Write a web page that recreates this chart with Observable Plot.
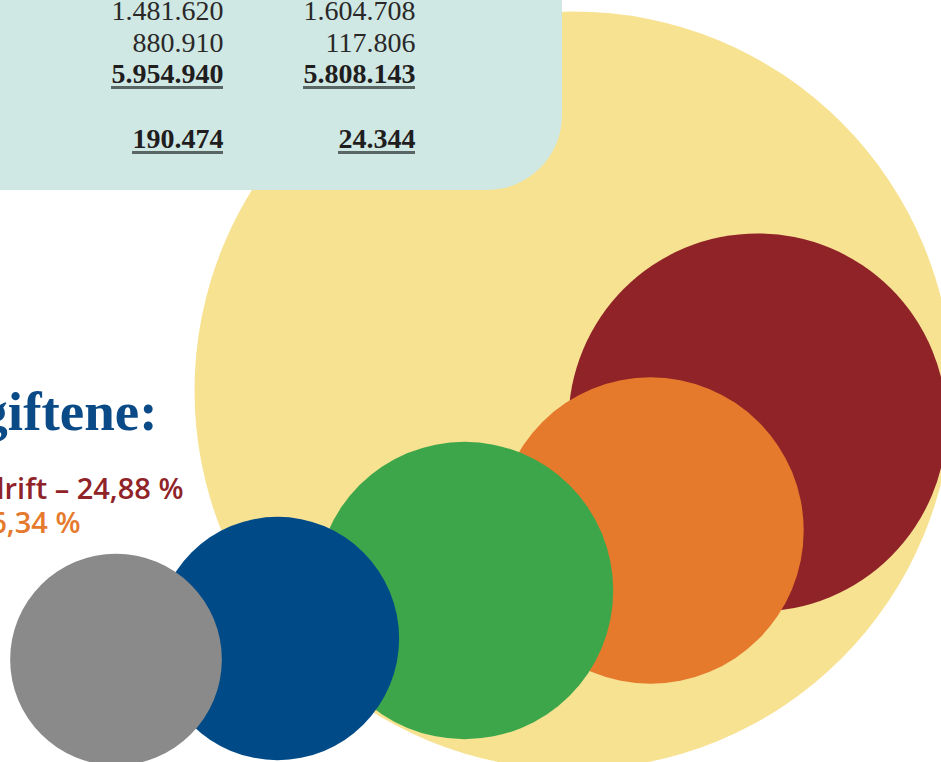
<!DOCTYPE html>
<html><head><meta charset="utf-8">
<script src="https://cdn.jsdelivr.net/npm/d3@7"></script>
<script src="https://cdn.jsdelivr.net/npm/@observablehq/plot@0.6"></script>
<style>
html,body{margin:0;padding:0;background:#fff;overflow:hidden;}
#chart svg{display:block;}
</style></head><body><div id="chart"></div>
<script>
// ---- data ----
const circleNames  = ["Totalt", "Drift", "Post 2", "Post 3", "Post 4", "Post 5"];
const circleShares = [100, 24.88, 16.34, 15.4, 10.3, 7.8];
const circleColors = ["#f7e292", "#8f2328", "#e57a2d", "#3ea64a", "#004b87", "#898a89"];

const tableColA = [1481620, 880910, 5954940, 190474];
const tableColB = [1604708, 117806, 5808143, 24344];
const tableBold = [false, false, true, true];

const heading = "giftene:";
const legendTexts  = ["drift – 24,88 %", "6,34 %"];
const legendColors = ["#8f2328", "#e57a2d"];

// ---- layout (page coordinates) ----
const circleCx = [573, 757, 650, 464, 277, 115.5];
const circleCy = [390, 422, 530, 590, 638, 659];
const colRight = [223, 415];
const rowBase  = [19, 51, 82, 147];
const panel = {x1: -120, x2: 562, y1: -120, y2: 190};
const legendX = [183, 80];
const legendY = [498, 532];

const fmt = d3.formatLocale({decimal: ",", thousands: ".", grouping: [3], currency: ["", " kr"]}).format(",d");
const TFS = 28;
// Liberation Serif (Times metrics): digits 0.5em, period 0.25em
const textWidth = s => TFS * [...s].reduce((a, c) => a + (c === "." ? 0.25 : 0.5), 0);

const circles = circleNames.map((name, i) => ({name, share: circleShares[i], color: circleColors[i], cx: circleCx[i], cy: circleCy[i]}));

const cells = [];
[tableColA, tableColB].forEach((col, c) => col.forEach((v, r) => {
  cells.push({label: fmt(v), x: colRight[c], y: rowBase[r], bold: tableBold[r]});
}));
const underlines = cells.filter(d => d.bold).map(d => ({x1: d.x - textWidth(d.label), x2: d.x, y: d.y + 5}));

const legend = legendTexts.map((t, i) => ({text: t, color: legendColors[i], x: legendX[i], y: legendY[i]}));

const chart = Plot.plot({
  width: 941, height: 762, margin: 0,
  x: {domain: [0, 941], range: [0, 941], axis: null},
  y: {domain: [0, 762], range: [0, 762], axis: null},
  r: {type: "sqrt", domain: [0, 100], range: [0, 379]},
  color: {type: "identity"},
  style: {background: "#fff", overflow: "hidden"},
  marks: [
    Plot.dot(circles, {x: "cx", y: "cy", r: "share", fill: "color", sort: null}),
    Plot.rect([panel], {x1: "x1", x2: "x2", y1: "y1", y2: "y2", fill: "#cfe8e4", rx: 75}),
    Plot.text(cells.filter(d => !d.bold), {x: "x", y: "y", text: "label", textAnchor: "end", lineAnchor: "bottom",
      fontSize: TFS, fontFamily: "Liberation Serif", fill: "#2a2828"}),
    Plot.text(cells.filter(d => d.bold), {x: "x", y: "y", text: "label", textAnchor: "end", lineAnchor: "bottom",
      fontSize: TFS, fontFamily: "Liberation Serif", fontWeight: "bold", fill: "#1f1d1d"}),
    Plot.ruleY(underlines, {x1: "x1", x2: "x2", y: "y", stroke: "#5a6664", strokeWidth: 3}),
    Plot.text([heading], {x: 157, y: 429, text: d => d, textAnchor: "end", lineAnchor: "bottom",
      fontSize: 55, fontFamily: "Liberation Serif", fontWeight: "bold", fill: "#0a4a87"}),
    Plot.text(legend, {x: "x", y: "y", text: "text", fill: "color", textAnchor: "end", lineAnchor: "bottom",
      fontSize: 29, fontFamily: "Open Sans", fontWeight: 600})
  ]
});
document.getElementById("chart").appendChild(chart);
</script>
</body></html>
